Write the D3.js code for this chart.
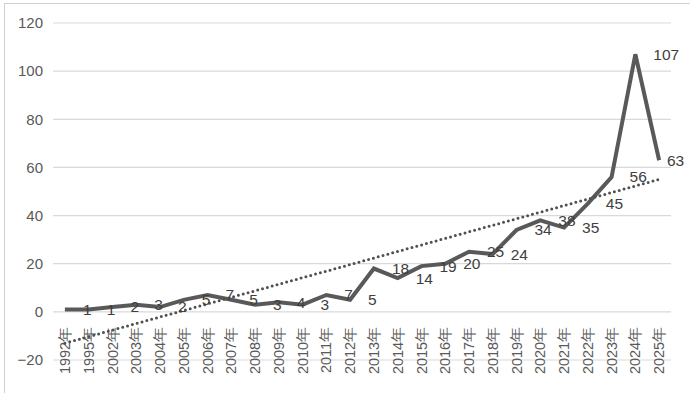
<!DOCTYPE html>
<html><head><meta charset="utf-8">
<script src="https://cdn.jsdelivr.net/npm/d3@7"></script>
<style>body{margin:0;background:#fff;} svg{display:block;font-family:"Liberation Sans","Noto Sans CJK SC",sans-serif;}</style>
</head><body>
<script>
const categories = ["1992年","1995年","2002年","2003年","2004年","2005年","2006年","2007年","2008年","2009年","2010年","2011年","2012年","2013年","2014年","2015年","2016年","2017年","2018年","2019年","2020年","2021年","2022年","2023年","2024年","2025年"];
const values = [1,1,2,3,2,5,7,5,3,4,3,7,5,18,14,19,20,25,24,34,38,35,45,56,107,63];
const yTicks = [-20,0,20,40,60,80,100,120];

const W = 690, H = 393;
const svg = d3.select("body").append("svg").attr("width", W).attr("height", H);
svg.append("rect").attr("x",4.5).attr("y",3.5).attr("width",W).attr("height",H).attr("fill","#fff").attr("stroke","#d0d0d0");

const x = d3.scaleBand().domain(categories).range([53, 671]);
const y = d3.scaleLinear().domain([-20, 120]).range([360, 23]);
const cx = d => x(d) + x.bandwidth()/2;

// gridlines
svg.append("g").selectAll("line").data(yTicks).join("line")
  .attr("x1",53).attr("x2",671).attr("y1",d=>y(d)).attr("y2",d=>y(d))
  .attr("stroke","#d9d9d9").attr("stroke-width",1.2);

// y axis labels
const yAxis = d3.axisLeft(y).tickValues(yTicks).tickSize(0).tickPadding(0);
const gy = svg.append("g").attr("transform","translate(43,0)").call(yAxis);
gy.select(".domain").remove();
gy.selectAll("text").attr("font-size",15).attr("fill","#595959");

// x axis labels (rotated)
const xAxis = d3.axisBottom(x).tickSize(0).tickPadding(0);
const gx = svg.append("g").attr("transform",`translate(0,${y(0)})`).call(xAxis);
gx.select(".domain").remove();
gx.selectAll("text").attr("font-size",14.5).attr("fill","#595959")
  .attr("transform","rotate(-90)").attr("text-anchor","end")
  .attr("x",-15).attr("y",0).attr("dy","0.35em");

// line
const line = d3.line().x((d,i)=>cx(categories[i])).y(d=>y(d));
svg.append("path").datum(values).attr("d",line).attr("fill","none")
  .attr("stroke","#595959").attr("stroke-width",4).attr("stroke-linejoin","miter");

// linear trendline
const n = values.length;
const xs = values.map((d,i)=>i+1);
const xm = d3.mean(xs), ym = d3.mean(values);
const slope = d3.sum(xs.map((xi,i)=>(xi-xm)*(values[i]-ym))) / d3.sum(xs.map(xi=>(xi-xm)*(xi-xm)));
const icpt = ym - slope*xm;
svg.append("line")
  .attr("x1",cx(categories[0])).attr("y1",y(icpt+slope*1))
  .attr("x2",cx(categories[n-1])).attr("y2",y(icpt+slope*n))
  .attr("stroke","#505050").attr("stroke-width",3).attr("stroke-dasharray","0 5").attr("stroke-linecap","round");

// data labels (right of point)
svg.append("g").selectAll("text").data(values).join("text")
  .attr("x",(d,i)=>Math.min(cx(categories[i])+18, 667)).attr("y",d=>y(d)).attr("dy","0.35em")
  .attr("font-size",15.5).attr("fill","#404040").text(d=>d);
</script>
</body></html>
